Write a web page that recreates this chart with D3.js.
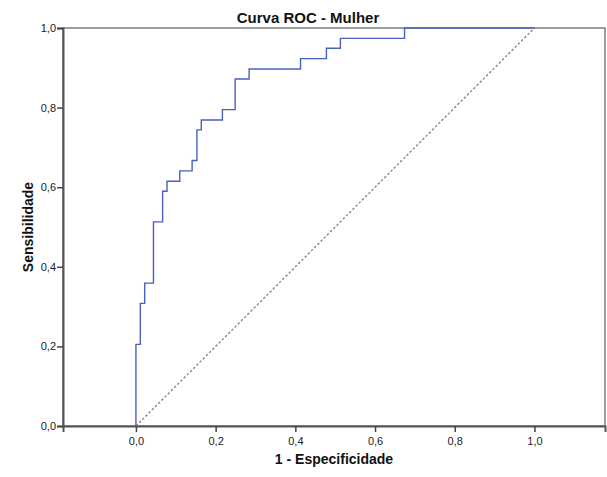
<!DOCTYPE html>
<html>
<head>
    <meta charset="utf-8">
    <title>Curva ROC - Mulher</title>
    <script src="https://cdn.jsdelivr.net/npm/d3@7"></script>
    <style>
        body { margin: 0; background: #fff; }
        text { font-family: "Liberation Sans", Arial, sans-serif; }
    </style>
</head>
<body>
    <svg width="607" height="477" id="mainsvg"></svg>
    <script>
        // ROC step points: 1 - especificidade, sensibilidade
        const fpr = [0, 0, 0.011, 0.022, 0.044, 0.067, 0.078, 0.110, 0.141, 0.153, 0.164, 0.217, 0.249, 0.284, 0.413, 0.478, 0.513, 0.674, 1.0];
        const tpr = [0, 0.205, 0.308, 0.359, 0.513, 0.590, 0.615, 0.641, 0.667, 0.744, 0.769, 0.795, 0.872, 0.897, 0.923, 0.949, 0.974, 1.0, 1.0];
        const ticks = [0, 0.2, 0.4, 0.6, 0.8, 1.0];

        const svg = d3.select('svg');
        const mLeft = 63, mRight = 605, mTop = 28, mBottom = 426;

        const x = d3.scaleLinear().domain([-0.183, 1.177]).range([mLeft, mRight]);
        const y = d3.scaleLinear().domain([0, 1]).range([mBottom, mTop]);
        const fmt = d => d3.format('.1f')(d).replace('.', ',');

        // frame
        svg.append('rect')
            .attr('x', mLeft).attr('y', mTop)
            .attr('width', mRight - mLeft).attr('height', mBottom - mTop)
            .attr('fill', 'none').attr('stroke', '#6a6a6a').attr('stroke-width', 1.3);

        const xAxis = svg.append('g')
            .attr('transform', `translate(0, ${mBottom})`)
            .call(d3.axisBottom(x).tickValues(ticks).tickFormat(fmt).tickSize(6).tickPadding(5));
        const yAxis = svg.append('g')
            .attr('transform', `translate(${mLeft}, 0)`)
            .call(d3.axisLeft(y).tickValues(ticks).tickFormat(fmt).tickSize(6).tickPadding(1));

        [xAxis, yAxis].forEach(g => {
            g.select('.domain').attr('stroke', '#555').attr('stroke-width', 2);
            g.selectAll('.tick line').attr('stroke', '#444').attr('stroke-width', 1.5);
            g.selectAll('.tick text').attr('font-size', 11).attr('fill', '#222')
                .attr('font-family', '"Liberation Sans", Arial, sans-serif');
        });

        // reference diagonal
        svg.append('line')
            .attr('x1', x(0)).attr('y1', y(0))
            .attr('x2', x(1)).attr('y2', y(1))
            .attr('stroke', '#808080').attr('stroke-width', 1.3)
            .attr('stroke-dasharray', '2.5,2');

        // ROC curve
        const line = d3.line()
            .x(d => x(d[0])).y(d => y(d[1]))
            .curve(d3.curveStepAfter);
        svg.append('path')
            .datum(fpr.map((f, i) => [f, tpr[i]]))
            .attr('d', line)
            .attr('fill', 'none')
            .attr('stroke', '#4862bd')
            .attr('stroke-width', 1.4);

        // titles
        svg.append('text')
            .attr('x', 308).attr('y', 23)
            .attr('text-anchor', 'middle')
            .attr('font-size', 15).attr('font-weight', 'bold').attr('fill', '#111')
            .text('Curva ROC - Mulher');
        svg.append('text')
            .attr('x', (mLeft + mRight) / 2).attr('y', 464)
            .attr('text-anchor', 'middle')
            .attr('font-size', 14).attr('font-weight', 'bold').attr('fill', '#111')
            .text('1 - Especificidade');
        svg.append('text')
            .attr('transform', `translate(33, ${(mTop + mBottom) / 2}) rotate(-90)`)
            .attr('text-anchor', 'middle')
            .attr('font-size', 14).attr('font-weight', 'bold').attr('fill', '#111')
            .text('Sensibilidade');
    </script>
</body>
</html>
